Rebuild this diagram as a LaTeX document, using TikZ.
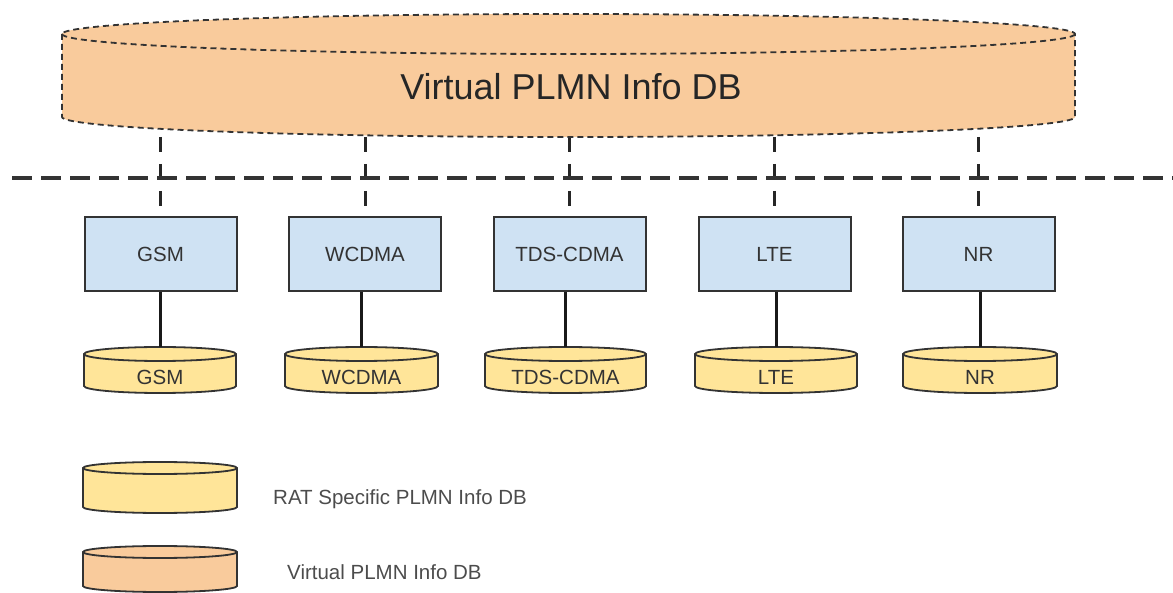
\documentclass[tikz,border=0pt]{standalone}
\usepackage{fontspec}
\setmainfont{Liberation Sans}
\usetikzlibrary{backgrounds,calc}
\definecolor{orng}{HTML}{F9CB9C}
\definecolor{yel}{HTML}{FFE599}
\definecolor{lblue}{HTML}{CFE2F3}
\definecolor{edgec}{HTML}{333333}
\definecolor{txtc}{HTML}{333333}
\tikzset{
  ratbox/.style={draw=edgec, line width=2pt, fill=lblue, minimum width=152pt, minimum height=74pt, inner sep=0pt, font=\fontsize{20.5}{24}\selectfont, text=txtc},
  bigcyl/.style={draw=edgec, line width=1.8pt, dash pattern=on 6pt off 4pt, fill=orng},
  ratcyl/.style={draw=edgec, line width=1.8pt, fill=yel},
  virtcyl/.style={draw=edgec, line width=1.8pt, fill=orng},
  vlink/.style={line width=3pt, draw=black!85, dash pattern=on 15pt off 12pt},
  hsep/.style={line width=3.5pt, draw=black!80, dash pattern=on 20pt off 9pt},
  dblink/.style={line width=3pt, draw=black!90},
  lbl/.style={font=\fontsize{20.5}{24}\selectfont, text=txtc, inner sep=0pt},
  leg/.style={font=\fontsize{20.5}{24}\selectfont, text=black!70, inner sep=0pt, anchor=west},
}
% #1 name, #2 xl, #3 xr, #4 Ytop, #5 Ybot, #6 r, #7 style
\newcommand\cylshape[7]{%
  \path[#7] (#2,{#4-#6}) -- (#2,{#5+#6})
    arc[start angle=180,end angle=360,x radius={(#3-#2)/2*1pt},y radius=#6pt]
    -- (#3,{#4-#6})
    arc[start angle=0,end angle=180,x radius={(#3-#2)/2*1pt},y radius=#6pt] -- cycle;
  \draw[#7,fill=none] (#2,{#4-#6})
    arc[start angle=180,end angle=360,x radius={(#3-#2)/2*1pt},y radius=#6pt];
  \node[inner sep=0pt, outer sep=0pt, minimum width={(#3-#2)*1pt}, minimum height={(#4-#5)*1pt}] (#1) at ({(#2+#3)/2},{(#4+#5)/2}) {};
}
\begin{document}
\begin{tikzpicture}[x=1pt,y=1pt]
\useasboundingbox (0,0) rectangle (1173,592);

% big virtual DB
\cylshape{big}{62}{1075}{578}{455}{20}{bigcyl}
\node[font=\fontsize{36}{40}\selectfont, text=black!85, inner sep=0pt] (bigtxt) at (571,505) {Virtual PLMN Info DB};

% separator
\coordinate (hl) at (12,414);
\coordinate (hr) at (1173,414);
\draw[hsep] (hl) -- (hr);

% RAT boxes
\node[ratbox] (gsm)   at (160.5,338) {GSM};
\node[ratbox] (wcdma) at (365,338)   {WCDMA};
\node[ratbox] (tds)   at (569.5,338) {TDS-CDMA};
\node[ratbox] (lte)   at (774.5,338) {LTE};
\node[ratbox] (nr)    at (978.5,338) {NR};

% RAT specific DBs
\cylshape{cgsm}{84}{236}{245}{199}{7}{ratcyl}
\cylshape{cwcdma}{285}{438}{245}{199}{7}{ratcyl}
\cylshape{ctds}{485}{646}{245}{199}{7}{ratcyl}
\cylshape{clte}{695}{857}{245}{199}{7}{ratcyl}
\cylshape{cnr}{903}{1057}{245}{199}{7}{ratcyl}
\node[lbl] (tgsm)   at ($(cgsm.south)+(0,16)$)   {GSM};
\node[lbl] (twcdma) at ($(cwcdma.south)+(0,16)$) {WCDMA};
\node[lbl] (ttds)   at ($(ctds.south)+(0,16)$)   {TDS-CDMA};
\node[lbl] (tlte)   at ($(clte.south)+(0,16)$)   {LTE};
\node[lbl] (tnr)    at ($(cnr.south)+(0,16)$)    {NR};

% connectors
\begin{scope}[on background layer]
  \foreach \n in {gsm,wcdma,tds,lte,nr}
    \draw[vlink] (\n.north |- big.south) -- (\n.north);
\end{scope}
\foreach \n in {gsm,wcdma,tds,lte,nr}
  \draw[dblink] (\n.south -| c\n.north) -- (c\n.north);

% legend
\cylshape{legrat}{83}{237}{130}{79}{6}{ratcyl}
\node[leg] (legrattxt) at (273,93) {RAT Specific PLMN Info DB};
\cylshape{legvirt}{83}{237}{46}{0}{6}{virtcyl}
\node[leg] (legvirttxt) at (287,20) {Virtual PLMN Info DB};
\end{tikzpicture}
\end{document}
